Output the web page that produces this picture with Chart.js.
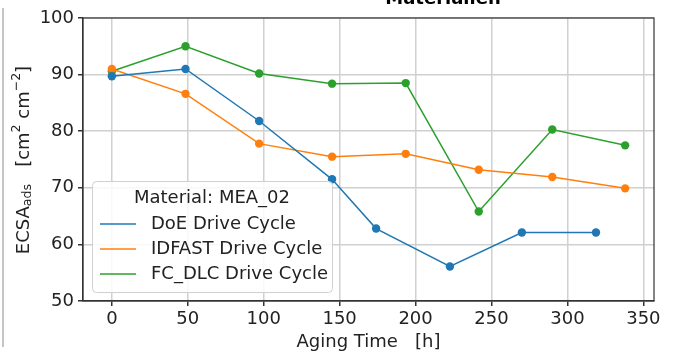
<!DOCTYPE html>
<html>
<head>
<meta charset="utf-8">
<script src="https://cdn.jsdelivr.net/npm/chart.js@4.4.1/dist/chart.umd.min.js"></script>
<style>
html,body{margin:0;padding:0;background:#fff;}
#wrap{width:678px;height:353px;position:relative;}
</style>
</head>
<body>
<div id="wrap"><canvas id="c" width="678" height="353"></canvas></div>
<script>
// ---- data ----
const seriesNames = ["DoE Drive Cycle", "IDFAST Drive Cycle", "FC_DLC Drive Cycle"];
const doeHours   = [0, 48.5, 97, 145, 174, 222.6, 270, 318.8];
const doeEcsa    = [89.7, 91.0, 81.8, 71.5, 62.8, 56.1, 62.1, 62.1];
const idfHours   = [0, 48.5, 97, 145, 193.5, 241.6, 290, 338];
const idfEcsa    = [91.0, 86.6, 77.8, 75.5, 76.0, 73.2, 71.9, 69.9];
const fcdHours   = [0, 48.5, 97, 145, 193.5, 241.6, 290, 338];
const fcdEcsa    = [90.6, 95.0, 90.2, 88.4, 88.5, 65.8, 80.3, 77.5];
const xTicks = [0, 50, 100, 150, 200, 250, 300, 350];
const yTicks = [50, 60, 70, 80, 90, 100];
const legendTitle = "Material: MEA_02";
const chartTitle = "Materialien";
const xTitle = "Aging Time   [h]";

const colors = ["#1f77b4", "#ff7f0e", "#2ca02c"];
const FONT = "'DejaVu Sans', sans-serif";
const FS = 18;
const pts = (xs, ys) => xs.map((x, i) => ({x: x, y: ys[i]}));

function ds(i, xs, ys) {
  return {
    label: seriesNames[i],
    data: pts(xs, ys),
    borderColor: colors[i],
    backgroundColor: colors[i],
    borderWidth: 1.5,
    pointRadius: 4.2,
    pointHoverRadius: 4.2,
    pointBorderWidth: 0,
    tension: 0
  };
}

const decor = {
  id: 'decor',
  afterDraw(chart) {
    const ctx = chart.ctx;
    const a = chart.chartArea;
    ctx.save();
    // spines
    ctx.strokeStyle = '#333';
    ctx.lineWidth = 1.2;
    ctx.strokeRect(a.left, a.top, a.right - a.left, a.bottom - a.top);
    // left border line of image
    ctx.strokeStyle = '#c4c4c4';
    ctx.lineWidth = 2;
    ctx.beginPath(); ctx.moveTo(3, 8); ctx.lineTo(3, 347); ctx.stroke();
    // title (clipped at top)
    ctx.fillStyle = '#000';
    ctx.font = "bold 18px " + FONT;
    ctx.textAlign = 'center';
    ctx.textBaseline = 'alphabetic';
    ctx.fillText(chartTitle, 443, 4);
    // y axis title with sub/superscripts
    ctx.translate(24, 160);
    ctx.rotate(-Math.PI / 2);
    const big = FS + "px " + FONT, small = "12.5px " + FONT;
    const parts = [
      {t: "ECSA", f: big, dy: 0},
      {t: "ads", f: small, dy: 4},
      {t: "   [cm", f: big, dy: 0},
      {t: "2", f: small, dy: -7},
      {t: " cm", f: big, dy: 0},
      {t: "\u22122", f: small, dy: -7},
      {t: "]", f: big, dy: 0}
    ];
    let total = 0;
    parts.forEach(p => { ctx.font = p.f; p.w = ctx.measureText(p.t).width; total += p.w; });
    let x = -total / 2;
    ctx.textAlign = 'left';
    ctx.textBaseline = 'middle';
    ctx.fillStyle = '#222';
    parts.forEach(p => { ctx.font = p.f; ctx.fillText(p.t, x, p.dy); x += p.w; });
    ctx.restore();

    // legend
    ctx.save();
    const lx = 92, ly = 181, lw = 240, lh = 111;
    ctx.fillStyle = 'rgba(255,255,255,0.85)';
    ctx.strokeStyle = '#d0d0d0';
    ctx.lineWidth = 1;
    ctx.beginPath();
    ctx.roundRect(lx + 0.5, ly + 0.5, lw, lh, 4);
    ctx.fill(); ctx.stroke();
    ctx.fillStyle = '#222';
    ctx.font = FS + "px " + FONT;
    ctx.textAlign = 'center';
    ctx.textBaseline = 'middle';
    ctx.fillText(legendTitle, 212, 198);
    ctx.textAlign = 'left';
    chart.data.datasets.forEach((d, i) => {
      const yy = 224 + i * 25;
      ctx.strokeStyle = d.borderColor;
      ctx.lineWidth = 1.5;
      ctx.beginPath(); ctx.moveTo(100, yy); ctx.lineTo(136, yy); ctx.stroke();
      ctx.fillStyle = '#222';
      ctx.fillText(d.label, 151, yy);
    });
    ctx.restore();
  }
};

new Chart(document.getElementById('c'), {
  type: 'line',
  data: { datasets: [ds(0, doeHours, doeEcsa), ds(1, idfHours, idfEcsa), ds(2, fcdHours, fcdEcsa)] },
  options: {
    responsive: false,
    animation: false,
    events: [],
    layout: { padding: { left: 0, top: 18, right: 24, bottom: 0 } },
    plugins: { legend: { display: false }, tooltip: { enabled: false }, title: { display: false } },
    scales: {
      x: {
        type: 'linear',
        min: -19, max: 357,
        afterBuildTicks: s => { s.ticks = xTicks.map(v => ({value: v})); },
        afterFit: s => { s.height = 52; },
        grid: { color: '#d0d0d0', lineWidth: 1.5, tickColor: '#333', tickLength: 5, drawTicks: true },
        border: { color: '#333', width: 1.2 },
        ticks: { color: '#222', font: { family: FONT, size: FS }, padding: 3, maxRotation: 0 },
        title: { display: true, text: xTitle, color: '#222', font: { family: FONT, size: FS }, padding: { top: 0, bottom: 0 } }
      },
      y: {
        min: 50, max: 100,
        afterBuildTicks: s => { s.ticks = yTicks.map(v => ({value: v})); },
        afterFit: s => { s.width = 83; },
        grid: { color: '#d0d0d0', lineWidth: 1.5, tickColor: '#333', tickLength: 5, drawTicks: true },
        border: { color: '#333', width: 1.2 },
        ticks: { color: '#222', font: { family: FONT, size: FS }, padding: 4 }
      }
    }
  },
  plugins: [decor]
});
</script>
</body>
</html>
